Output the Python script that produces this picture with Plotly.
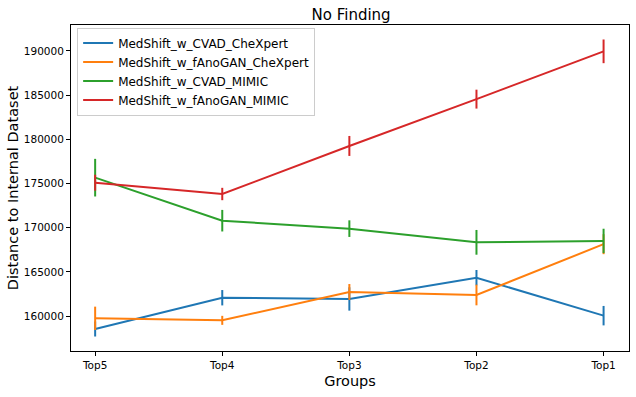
import plotly.graph_objects as go

groups = ["Top5", "Top4", "Top3", "Top2", "Top1"]

cvad_chexpert = [158530, 162070, 161930, 164340, 160040]
cvad_chexpert_err = [850, 870, 1320, 870, 1100]

fanogan_chexpert = [159740, 159510, 162720, 162380, 168130]
fanogan_chexpert_err = [1320, 510, 900, 1170, 1130]

cvad_mimic = [175660, 170790, 169890, 168340, 168500]
cvad_mimic_err = [2130, 1220, 940, 1400, 1380]

fanogan_mimic = [175090, 173810, 179250, 184550, 189960]
fanogan_mimic_err = [900, 700, 1130, 1070, 1340]

series = [
    ("MedShift_w_CVAD_CheXpert", cvad_chexpert, cvad_chexpert_err, "#1f77b4"),
    ("MedShift_w_fAnoGAN_CheXpert", fanogan_chexpert, fanogan_chexpert_err, "#ff7f0e"),
    ("MedShift_w_CVAD_MIMIC", cvad_mimic, cvad_mimic_err, "#2ca02c"),
    ("MedShift_w_fAnoGAN_MIMIC", fanogan_mimic, fanogan_mimic_err, "#d62728"),
]

font = "DejaVu Sans, sans-serif"

fig = go.Figure()
for name, vals, errs, color in series:
    fig.add_trace(go.Scatter(
        x=list(range(len(groups))), y=vals, name=name, mode="lines",
        line=dict(color=color, width=2),
        error_y=dict(type="data", array=errs, color=color, thickness=2, width=0),
    ))

axis_style = dict(
    showline=True, linecolor="black", linewidth=1, mirror=True, automargin=False,
    ticks="outside", ticklen=4, tickcolor="black", showgrid=False, zeroline=False,
    tickfont=dict(family=font, size=10.5, color="black"),
)

fig.update_layout(
    width=636, height=397,
    margin=dict(l=71, r=7, t=25, b=46),
    paper_bgcolor="white", plot_bgcolor="white",
    font=dict(family=font, color="black"),
    title=dict(text="No Finding", x=0.552, xanchor="center", y=0.962, yanchor="middle",
               font=dict(size=15, family=font, color="black"), automargin=False),
    xaxis=dict(axis_style, range=[-0.19, 4.2], tickvals=list(range(len(groups))), ticktext=groups,
               title=dict(text="Groups", font=dict(size=14.5, family=font), standoff=6)),
    yaxis=dict(axis_style, range=[156040, 192940], tickvals=[160000, 165000, 170000, 175000, 180000, 185000, 190000],
               tickformat="d",
               title=dict(text="Distance to Internal Dataset", font=dict(size=14.5, family=font), standoff=1)),
    legend=dict(x=0.011, y=0.992, xanchor="left", yanchor="top",
                bgcolor="rgba(255,255,255,0.8)", bordercolor="#cccccc", borderwidth=1,
                font=dict(size=12, family=font), tracegroupgap=0, itemwidth=30),
    showlegend=True,
)

# drop the browser's default 8px body margin so the figure sits at the page corner
fig.write_html("out.html", config={"displayModeBar": False},
               post_script="document.body.style.margin='0';")
